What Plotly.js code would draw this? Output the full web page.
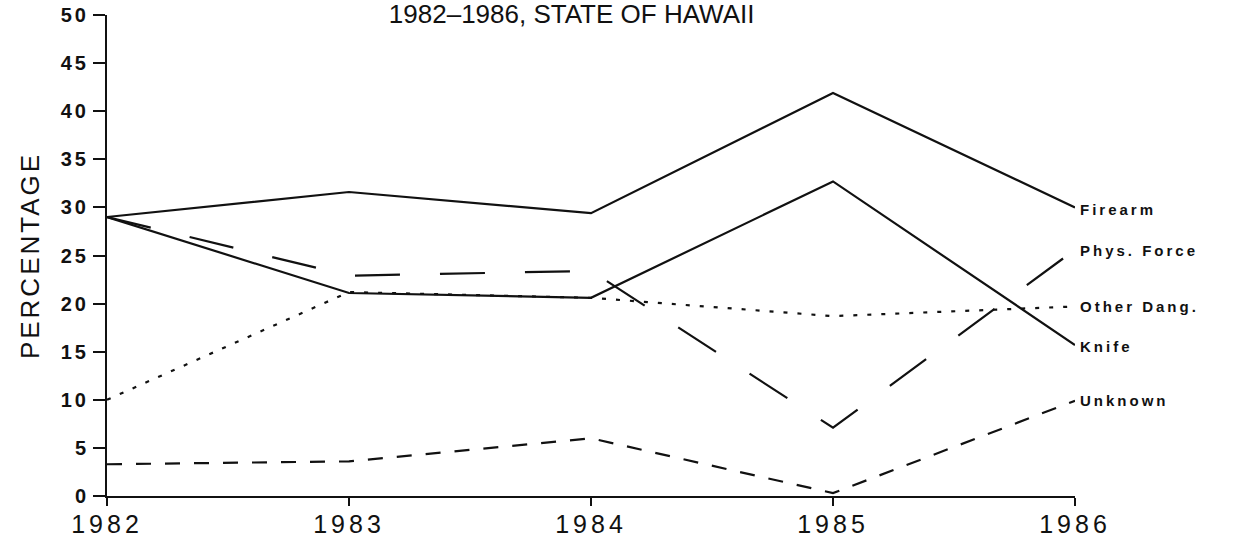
<!DOCTYPE html>
<html>
<head>
<meta charset="utf-8">
<script src="https://cdn.plot.ly/plotly-3.0.1.min.js"></script>
<style>
html,body{margin:0;padding:0;background:#fff;}
#chart{width:1244px;height:544px;}
.xtick text{letter-spacing:4px;}
.ytick text{letter-spacing:3px;}
.annotation-text{letter-spacing:3px;}
.ytitle{letter-spacing:3px;}
</style>
</head>
<body>
<div id="chart"></div>
<script>
const years = [1982, 1983, 1984, 1985, 1986];
const firearm = [29.0, 31.6, 29.4, 41.9, 30.0];
const physForce = [29.0, 22.9, 23.4, 7.1, 25.6];
const knife = [29.0, 21.1, 20.6, 32.7, 15.7];
const otherDang = [10.0, 21.2, 20.6, 18.7, 19.7];
const unknown = [3.3, 3.6, 6.0, 0.3, 9.9];
const seriesNames = ["Firearm", "Phys. Force", "Other Dang.", "Knife", "Unknown"];
const labelY = [29.8, 25.5, 19.7, 15.5, 9.9];
const yTicks = [0, 5, 10, 15, 20, 25, 30, 35, 40, 45, 50];

const seriesData = [firearm, physForce, otherDang, knife, unknown];
const dashes = ["solid", "45px,40px", "4px,10px", "solid", "15px,14px"];

const traces = seriesData.map((vals, i) => ({
  x: years, y: vals, type: "scatter", mode: "lines", name: seriesNames[i],
  line: {color: "#111", width: 2.2, dash: dashes[i]},
  hoverinfo: "x+y+name"
}));

const annotations = seriesNames.map((n, i) => ({
  x: 1986, y: labelY[i], xref: "x", yref: "y", text: n,
  showarrow: false, xanchor: "left", yanchor: "middle", xshift: 3,
  font: {family: "Liberation Sans, Arial, sans-serif", size: 15, color: "#111", weight: "bold"}
}));

const layout = {
  width: 1244, height: 544,
  margin: {l: 107, r: 169, t: 15, b: 48},
  paper_bgcolor: "#fff", plot_bgcolor: "#fff",
  showlegend: false,
  title: {
    text: "1982\u20131986, STATE OF HAWAII",
    x: 0.48, xref: "paper", xanchor: "center",
    y: 0.975, yref: "container", yanchor: "middle",
    font: {family: "Liberation Sans, Arial, sans-serif", size: 26, color: "#111"}
  },
  xaxis: {
    range: [1982, 1986], tickvals: years, ticktext: years.map(String),
    showgrid: false, zeroline: false, showline: true, linecolor: "#111", linewidth: 2,
    ticks: "outside", ticklen: 8, tickwidth: 2, tickcolor: "#111",
    ticklabelstandoff: -3,
    tickfont: {family: "Liberation Sans, Arial, sans-serif", size: 25, color: "#111"}
  },
  yaxis: {
    range: [0, 50], tickvals: yTicks, ticktext: yTicks.map(String),
    showgrid: false, zeroline: false, showline: true, linecolor: "#111", linewidth: 2,
    ticks: "outside", ticklen: 12, tickwidth: 2, tickcolor: "#111",
    tickfont: {family: "Liberation Sans, Arial, sans-serif", size: 20, color: "#111", weight: "bold"},
    title: {text: "PERCENTAGE", standoff: 14,
      font: {family: "Liberation Sans, Arial, sans-serif", size: 26, color: "#111"}}
  },
  annotations: annotations
};

Plotly.newPlot("chart", traces, layout, {displayModeBar: false, staticPlot: true});
</script>
</body>
</html>
